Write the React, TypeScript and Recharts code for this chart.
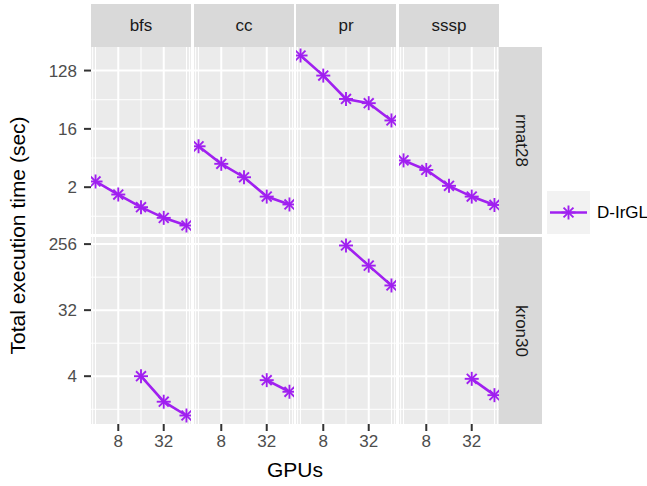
import React from 'react';
import { LineChart, Line, XAxis, YAxis, CartesianGrid, ReferenceLine } from 'recharts';

// ---------- data ----------
const algorithms = ['bfs', 'cc', 'pr', 'sssp'];
const graphs = ['rmat28', 'kron30'];
const gpus = [4, 8, 16, 32, 64];
const seriesName = 'D-IrGL';

const rmat28Bfs = [2.45, 1.54, 0.98, 0.67, 0.51];
const rmat28Cc = [8.6, 4.6, 2.85, 1.43, 1.08];
const rmat28Pr = [219, 107, 46.5, 40, 21.6];
const rmat28Sssp = [5.2, 3.7, 2.1, 1.43, 1.06];

const kron30Bfs = [null, null, 4.0, 1.79, 1.16];
const kron30Cc = [null, null, null, 3.53, 2.45];
const kron30Pr = [null, null, 245, 130, 69.6];
const kron30Sssp = [null, null, null, 3.68, 2.2];

const xTicks = [8, 32];
const xMinorTicks = [3.66, 4, 16, 64, 70.5];
const rmat28Ticks = [2, 16, 128];
const rmat28MinorTicks = [0.71, 5.66, 45.25];
const kron30Ticks = [4, 32, 256];
const kron30MinorTicks = [1.41, 11.31, 90.51];

const seriesByGraph: Record<string, (number | null)[][]> = {
  rmat28: [rmat28Bfs, rmat28Cc, rmat28Pr, rmat28Sssp],
  kron30: [kron30Bfs, kron30Cc, kron30Pr, kron30Sssp],
};
const ticksByGraph: Record<string, number[]> = { rmat28: rmat28Ticks, kron30: kron30Ticks };
const minorByGraph: Record<string, number[]> = { rmat28: rmat28MinorTicks, kron30: kron30MinorTicks };

// ---------- helpers ----------
const logExpand = (vals: number[]): [number, number] => {
  const l = vals.map((v) => Math.log2(v));
  const lo = Math.min(...l);
  const hi = Math.max(...l);
  const e = (hi - lo) * 0.05;
  return [Math.pow(2, lo - e), Math.pow(2, hi + e)];
};

const xDomain = logExpand(gpus);
const yDomainByGraph: Record<string, [number, number]> = {};
graphs.forEach((g) => {
  const all: number[] = [];
  seriesByGraph[g].forEach((s) => s.forEach((v) => { if (v != null) all.push(v); }));
  yDomainByGraph[g] = logExpand(all);
});

// ---------- style ----------
const PURPLE = '#A020F0';
const FONT = '"Liberation Sans", Arial, Helvetica, sans-serif';
const colLeft = [91, 194, 296, 399];
const rowTop = [47, 237];
const PW = 100;
const PH = 187;
const YAXIS_W = 91;
const XAXIS_H = 32;
const PAD = 12;

const Asterisk = ({ cx, cy, r = 7 }: { cx: number; cy: number; r?: number }) => {
  const d = r * 0.7071;
  return (
    <g stroke={PURPLE} strokeWidth={1.9} strokeLinecap="butt">
      <line x1={cx} y1={cy - r} x2={cx} y2={cy + r} />
      <line x1={cx - r} y1={cy} x2={cx + r} y2={cy} />
      <line x1={cx - d} y1={cy - d} x2={cx + d} y2={cy + d} />
      <line x1={cx - d} y1={cy + d} x2={cx + d} y2={cy - d} />
    </g>
  );
};

const Panel = ({ gi, ai }: { gi: number; ai: number }) => {
  const g = graphs[gi];
  const values = seriesByGraph[g][ai];
  const data = gpus
    .map((x, i) => ({ gpus: x, time: values[i] }))
    .filter((d) => d.time != null);
  const isLeft = ai === 0;
  const isBottom = gi === graphs.length - 1;
  const width = PW + (isLeft ? YAXIS_W : 0);
  const height = PH + PAD + (isBottom ? XAXIS_H : 0);
  const left = isLeft ? colLeft[0] - YAXIS_W : colLeft[ai];
  const yDomain = yDomainByGraph[g];
  return (
    <div style={{ position: 'absolute', left, top: rowTop[gi] - PAD, width, height }}>
      <LineChart width={width} height={height} data={data} margin={{ top: PAD, right: 0, bottom: 0, left: 0 }}>
        <CartesianGrid fill="#EBEBEB" stroke="none" horizontal={false} vertical={false} />
        <XAxis
          dataKey="gpus"
          type="number"
          scale="log"
          domain={xDomain}
          ticks={xTicks}
          interval={0}
          hide={!isBottom}
          height={XAXIS_H}
          axisLine={false}
          tickSize={7}
          tickMargin={4}
          tickLine={{ stroke: '#333333', strokeWidth: 2 }}
          tick={{ fill: '#4D4D4D', fontSize: 17 }}
          allowDataOverflow
        />
        <YAxis
          dataKey="time"
          type="number"
          scale="log"
          domain={yDomain}
          ticks={ticksByGraph[g]}
          interval={0}
          hide={!isLeft}
          width={YAXIS_W}
          axisLine={false}
          tickSize={7}
          tickMargin={7}
          tickLine={{ stroke: '#333333', strokeWidth: 2 }}
          tick={{ fill: '#4D4D4D', fontSize: 17 }}
          allowDataOverflow
        />
        {minorByGraph[g].map((v) => (
          <ReferenceLine key={'hm' + v} y={v} stroke="#FFFFFF" strokeWidth={1} />
        ))}
        {xMinorTicks.map((v) => (
          <ReferenceLine key={'vm' + v} x={v} stroke="#FFFFFF" strokeWidth={1} />
        ))}
        {ticksByGraph[g].map((v) => (
          <ReferenceLine key={'hM' + v} y={v} stroke="#FFFFFF" strokeWidth={2} />
        ))}
        {xTicks.map((v) => (
          <ReferenceLine key={'vM' + v} x={v} stroke="#FFFFFF" strokeWidth={2} />
        ))}
        <Line
          type="linear"
          dataKey="time"
          name={seriesName}
          stroke={PURPLE}
          strokeWidth={2.6}
          isAnimationActive={false}
          dot={(p: any) => <Asterisk key={'dot' + p.index} cx={p.cx} cy={p.cy} />}
          activeDot={false}
        />
      </LineChart>
    </div>
  );
};

export default function App() {
  return (
    <div style={{ position: 'absolute', left: 0, top: 0, width: 647, height: 486, background: '#FFFFFF', fontFamily: FONT, overflow: 'hidden' }}>
      {graphs.map((_, gi) => algorithms.map((_, ai) => <Panel key={gi + '-' + ai} gi={gi} ai={ai} />))}
      {/* top strips */}
      {algorithms.map((a, ai) => (
        <div
          key={'st' + a}
          style={{
            position: 'absolute', left: colLeft[ai], top: 4, width: PW, height: 43, background: '#D9D9D9',
            color: '#1A1A1A', fontSize: 17, display: 'flex', alignItems: 'center', justifyContent: 'center',
          }}
        >
          {a}
        </div>
      ))}
      {/* right strips */}
      {graphs.map((g, gi) => (
        <div
          key={'sr' + g}
          style={{
            position: 'absolute', left: colLeft[3] + PW, top: rowTop[gi], width: 43, height: PH, background: '#D9D9D9',
            color: '#1A1A1A', fontSize: 17, display: 'flex', alignItems: 'center', justifyContent: 'center',
          }}
        >
          <span style={{ writingMode: 'vertical-rl' }}>{g}</span>
        </div>
      ))}
      {/* axis titles and legend */}
      <svg style={{ position: 'absolute', left: 0, top: 0 }} width={647} height={486} pointerEvents="none">
        <text
          x={0}
          y={0}
          transform={`translate(25, ${(rowTop[0] + rowTop[1] + PH) / 2}) rotate(-90)`}
          textAnchor="middle"
          fontSize={21}
          fill="#000000"
          fontFamily={FONT}
        >
          Total execution time (sec)
        </text>
        <text x={(colLeft[0] + colLeft[3] + PW) / 2} y={477} textAnchor="middle" fontSize={21} fill="#000000" fontFamily={FONT}>
          GPUs
        </text>
        <rect x={547} y={191} width={43} height={43} fill="#F2F2F2" />
        <line x1={550} y1={212.5} x2={587} y2={212.5} stroke={PURPLE} strokeWidth={2.6} />
        <Asterisk cx={568.5} cy={212.5} />
        <text x={597} y={212.5} dominantBaseline="central" fontSize={17} fill="#000000" fontFamily={FONT}>
          {seriesName}
        </text>
      </svg>
    </div>
  );
}
